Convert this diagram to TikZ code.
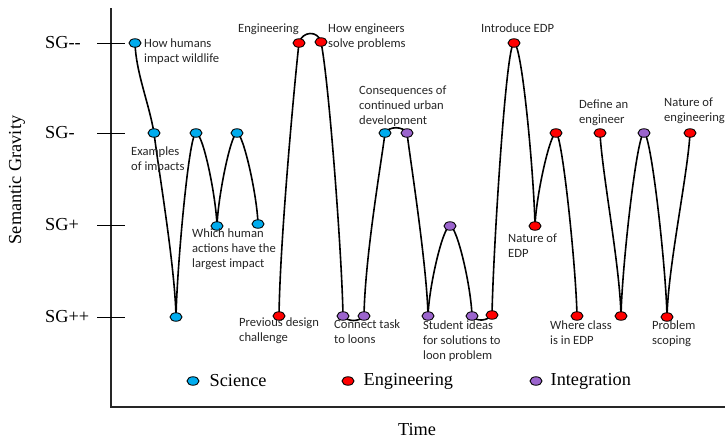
\documentclass[tikz,border=0pt]{standalone}
\usepackage{fontspec}
\setmainfont{Liberation Serif}
\newfontfamily\lblfont{Carlito}
\usepackage{tikz}
\usetikzlibrary{shapes.geometric,backgrounds,positioning}

\definecolor{sciblue}{RGB}{0,172,238}
\definecolor{engred}{RGB}{255,0,0}
\definecolor{intpurple}{RGB}{155,100,205}

\begin{document}
\begin{tikzpicture}[
    x=1pt, y=-1pt,
    dot/.style={ellipse, draw=black, line width=0.9pt, minimum width=12pt, minimum height=8.5pt, inner sep=0pt},
    sci/.style={dot, fill=sciblue},
    eng/.style={dot, fill=engred},
    integ/.style={dot, fill=intpurple},
    lbl/.style={inner sep=0pt, anchor=north west, align=left, text=black!85, font=\lblfont\fontsize{12.6}{14.6}\selectfont},
    big/.style={inner sep=0pt, font=\fontsize{18.3}{20}\selectfont},
    curve/.style={line width=1.6pt, black}
]
    \useasboundingbox (0,0) rectangle (725,442);

    % axes and levels
    \draw[line width=1.6pt, black!85] (111,8) -- (111,407) -- (725,407);
    \foreach \i/\lev/\y in {1/SG{-}\kern0pt{-}/43, 2/SG-/133, 3/SG+/225, 4/SG++/317} {
        \draw[line width=0.8pt] (97,\y) -- (125,\y);
        \node[big, anchor=west] (sg\i) at (45,\y) {\lev};
    }
    \node[big, rotate=90] (ylab) at (17,180) {Semantic Gravity};
    \node[big] (xlab) at (417,430) {Time};

    % lesson steps
    \foreach \i/\x/\y/\s in {
        1/135/43/sci, 2/154/133/sci, 3/176/317/sci, 4/196/133/sci, 5/217/226/sci,
        6/237/133/sci, 7/258/224/sci, 8/279/316/eng, 9/299/43/eng, 10/321/42/eng,
        11/343/316/integ, 12/364/316/integ, 13/385/133/sci, 14/407/133/integ,
        15/428/316/integ, 16/450/226/integ, 17/472/316/integ, 18/492/315/eng,
        19/514/43/eng, 20/535/226/eng, 21/556/133/eng, 22/577/316/eng,
        23/600/133/eng, 24/621/316/eng, 25/644/133/integ, 26/667/317/eng,
        27/690/133/eng} {
        \node[\s] (n\i) at (\x,\y) {};
    }

    % path between the steps (three runs)
    \begin{scope}[on background layer]
        \foreach \a/\b/\ox/\oy/\ix/\iy in {
            1/2/1/30/-5/-30, 2/3/5/40/-1/-50, 3/4/1/-50/-7/0, 4/5/7/0/-1/-30,
            5/6/1/-30/-6/0, 6/7/6/0/-1/-30,
            8/9/1/-80/-3/25, 9/10/3/-12/-3/-12, 10/11/8/40/-1/-60, 11/12/5/6/-5/6,
            12/13/1/-60/-3/25, 13/14/4/-7/-4/-7, 14/15/3/25/-1/-50, 15/16/1/-30/-7/0,
            16/17/7/0/-1/-30, 17/18/5/6/-5/6, 18/19/1/-60/-8/0, 19/20/8/0/-1/-50,
            20/21/1/-30/-6/0, 21/22/6/0/-1/-50,
            23/24/2/40/-1/-50, 24/25/1/-50/-7/0, 25/26/7/0/-1/-50, 26/27/1/-50/-2/40} {
            \draw[curve] (n\a.center) .. controls +(\ox,\oy) and +(\ix,\iy) .. (n\b.center);
        }
    \end{scope}

    % step labels
    \node[lbl] (t1) at (144,39) {How humans\\impact wildlife};
    \node[lbl] (t2) at (131,147) {Examples\\of impacts};
    \node[lbl] (t5) at (192,229) {Which human\\actions have the\\largest impact};
    \node[lbl] (t8) at (239,318) {Previous design\\challenge};
    \node[lbl] (t9) at (238,24) {Engineering};
    \node[lbl] (t10) at (328,24) {How engineers\\solve problems};
    \node[lbl] (t12) at (334,320) {Connect task\\to loons};
    \node[lbl] (t13) at (359,86) {Consequences of\\continued urban\\development};
    \node[lbl] (t17) at (423,321) {Student ideas\\for solutions to\\loon problem};
    \node[lbl] (t19) at (481,24) {Introduce EDP};
    \node[lbl] (t20) at (508,234) {Nature of\\EDP};
    \node[lbl] (t22) at (550,321) {Where class\\is in EDP};
    \node[lbl] (t23) at (579,100) {Define an\\engineer};
    \node[lbl] (t26) at (652,321) {Problem\\scoping};
    \node[lbl] (t27) at (664,98) {Nature of\\engineering};

    % legend
    \node[sci] (k1) at (193,381) {};
    \node[big, right=10pt of k1] (k1t) {Science};
    \node[eng] (k2) at (348,381) {};
    \node[big, right=9pt of k2] (k2t) {Engineering};
    \node[integ] (k3) at (536,381) {};
    \node[big, right=8pt of k3] (k3t) {Integration};
\end{tikzpicture}
\end{document}
